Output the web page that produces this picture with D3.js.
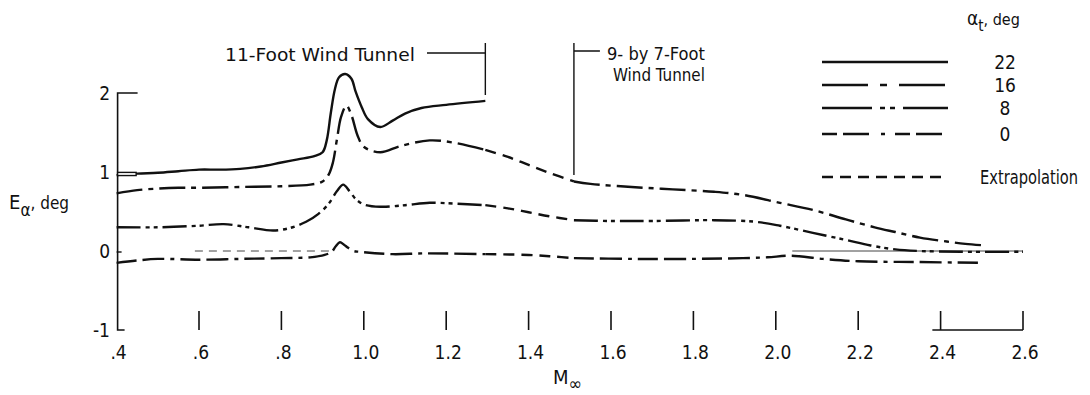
<!DOCTYPE html>
<html>
<head>
<meta charset="utf-8">
<script src="https://cdn.jsdelivr.net/npm/d3@7"></script>
<style>
  body { margin: 0; background: #fff; }
  svg { display: block; }
  text { font-family: "DejaVu Sans Condensed", "Liberation Sans Narrow", "DejaVu Sans", sans-serif; font-stretch: condensed; fill: #111; }
</style>
</head>
<body>
<div id="svg-container"></div>
<script>
// ------ DATA (Mach number, E_alpha in deg) ------ //
const xTicks = [0.4, 0.6, 0.8, 1.0, 1.2, 1.4, 1.6, 1.8, 2.0, 2.2, 2.4, 2.6];
const xTickLabels = [".4", ".6", ".8", "1.0", "1.2", "1.4", "1.6", "1.8", "2.0", "2.2", "2.4", "2.6"];
const yTicks = [2, 1, 0, -1];
const yTickLabels = ["2", "1", "0", "-1"];

// 11-Foot tunnel range ends, 9- by 7-Foot begins
const tunnelLimits = [1.295, 1.51];

// alpha_t = 22 (11-foot only)
const alpha22 = [[0.40,0.96],[0.45,0.98],[0.50,0.99],[0.55,1.01],[0.60,1.03],[0.65,1.03],[0.70,1.04],[0.75,1.07],[0.80,1.12],[0.84,1.16],[0.88,1.20],[0.90,1.25],[0.91,1.40],[0.92,1.75],[0.93,2.05],[0.94,2.20],[0.955,2.24],[0.97,2.18],[0.98,2.02],[0.995,1.82],[1.01,1.67],[1.04,1.57],[1.07,1.65],[1.10,1.74],[1.14,1.81],[1.20,1.85],[1.295,1.90]];

// alpha_t = 16
const alpha16 = [[0.40,0.73],[0.45,0.77],[0.50,0.79],[0.55,0.80],[0.60,0.80],[0.70,0.81],[0.80,0.82],[0.87,0.84],[0.90,0.88],[0.915,0.97],[0.925,1.12],[0.935,1.42],[0.945,1.70],[0.958,1.84],[0.97,1.72],[0.985,1.46],[1.00,1.32],[1.04,1.25],[1.09,1.33],[1.16,1.40],[1.22,1.37],[1.295,1.28]];
const alpha16Extrap = [[1.295,1.28],[1.35,1.19],[1.40,1.09],[1.45,0.99],[1.51,0.88]];
const alpha16High = [[1.51,0.88],[1.55,0.85],[1.65,0.81],[1.75,0.78],[1.85,0.75],[1.92,0.71],[2.01,0.61],[2.09,0.52],[2.17,0.40],[2.24,0.30],[2.29,0.24],[2.35,0.17],[2.415,0.12],[2.46,0.09],[2.51,0.07]];

// alpha_t = 8
const alpha8 = [[0.40,0.30],[0.50,0.30],[0.60,0.32],[0.66,0.34],[0.72,0.30],[0.78,0.26],[0.82,0.29],[0.86,0.37],[0.89,0.47],[0.915,0.60],[0.935,0.76],[0.95,0.84],[0.965,0.76],[0.98,0.66],[1.00,0.59],[1.04,0.56],[1.10,0.58],[1.16,0.61],[1.22,0.60],[1.295,0.58]];
const alpha8Extrap = [[1.295,0.58],[1.35,0.54],[1.40,0.49],[1.45,0.44],[1.51,0.39]];
const alpha8High = [[1.51,0.39],[1.60,0.38],[1.70,0.38],[1.85,0.39],[1.95,0.37],[2.01,0.32],[2.09,0.23],[2.17,0.14],[2.23,0.07],[2.29,0.02],[2.35,0.0],[2.45,-0.01],[2.60,-0.01]];

// alpha_t = 0
const alpha0 = [[0.40,-0.15],[0.45,-0.12],[0.50,-0.10],[0.60,-0.11],[0.70,-0.10],[0.80,-0.09],[0.87,-0.08],[0.905,-0.05],[0.922,-0.01],[0.932,0.06],[0.942,0.11],[0.952,0.08],[0.962,0.04],[0.975,0.0],[0.99,-0.01],[1.07,-0.04],[1.15,-0.03],[1.295,-0.04]];
const alpha0Extrap = [[1.295,-0.04],[1.40,-0.05],[1.46,-0.07],[1.51,-0.09]];
const alpha0High = [[1.51,-0.09],[1.65,-0.10],[1.80,-0.10],[1.92,-0.09],[1.98,-0.08],[2.035,-0.06],[2.115,-0.10],[2.20,-0.13],[2.35,-0.14],[2.50,-0.15]];

// thin zero reference pieces
const zeroRef = [[0.59, 0.93], [2.04, 2.60]];

const legendLabels = ["22", "16", "8", "0", "Extrapolation"];

// ------ LAYOUT ------ //
const width = 1090;
const height = 395;

const X_LEFT = 116.6;
const X_RIGHT = 1023;
const Y_TOP = 93;
const Y_BOTTOM = 330;

const INK = "#111";
const CURVE_WIDTH = 2.4;

const DASH_22 = "none";
const DASH_16 = "26,6,5,6";
const DASH_8 = "24,5,4,4,4,5";
const DASH_0 = "20,6,22,6,4,6";
const DASH_EXTRAP = "11,7";

const svg = d3
  .select("#svg-container")
  .append("svg")
  .attr("width", width)
  .attr("height", height);

const xScale = d3.scaleLinear().domain([0.4, 2.6]).range([X_LEFT, X_RIGHT]);
const yScale = d3.scaleLinear().domain([-1, 2]).range([Y_BOTTOM, Y_TOP]);

const line = d3
  .line()
  .x((d) => xScale(d[0]))
  .y((d) => yScale(d[1]))
  .curve(d3.curveCatmullRom.alpha(0.5));

// lettering in the original is narrow with wide word gaps:
// draw at the origin of a group and squeeze/stretch it to the wanted width
function fittedText(x, y, str, w, size) {
  const g = svg.append("g");
  const t = g.append("text").attr("x", 0).attr("y", 0).style("font-size", size + "px").text(str);
  const k = w / t.node().getComputedTextLength();
  g.attr("transform", `translate(${x},${y}) scale(${k},1)`);
  return t;
}

// =========== AXES =========== //
const axisG = svg.append("g").attr("stroke", INK).attr("fill", "none");

// left axis with bracket ends
axisG.append("path")
  .attr("stroke-width", 1.6)
  .attr("d", `M${xScale(0.4) + 21},${yScale(2)} H${xScale(0.4) + 1} V${yScale(-1)} H${xScale(0.4) + 8}`);
axisG.append("line")
  .attr("stroke-width", 1.4)
  .attr("x1", xScale(0.4)).attr("x2", xScale(0.4) + 5)
  .attr("y1", yScale(0) + 1).attr("y2", yScale(0) + 1);

// bottom ticks (no base line except the last interval)
axisG.selectAll("line.xtick")
  .data(xTicks.slice(1))
  .enter()
  .append("line")
  .attr("class", "xtick")
  .attr("stroke-width", 1.6)
  .attr("x1", (d) => xScale(d)).attr("x2", (d) => xScale(d))
  .attr("y1", Y_BOTTOM - 19).attr("y2", Y_BOTTOM);
axisG.append("line")
  .attr("stroke-width", 1.6)
  .attr("x1", xScale(2.38)).attr("x2", xScale(2.6))
  .attr("y1", Y_BOTTOM).attr("y2", Y_BOTTOM);

svg.append("g")
  .selectAll("text.xlab")
  .data(xTicks)
  .enter()
  .append("text")
  .attr("x", (d) => xScale(d) + 2)
  .attr("y", 359)
  .attr("text-anchor", "middle")
  .style("font-size", "19px")
  .text((d, i) => xTickLabels[i]);

svg.append("g")
  .selectAll("text.ylab")
  .data(yTicks)
  .enter()
  .append("text")
  .attr("x", 110)
  .attr("y", (d) => yScale(d) + 7)
  .attr("text-anchor", "end")
  .style("font-size", "19px")
  .text((d, i) => yTickLabels[i]);

// axis titles
const yTitle = svg.append("text").attr("x", 9).attr("y", 209).style("font-size", "20px");
yTitle.append("tspan").text("E");
yTitle.append("tspan").attr("dy", 7).style("font-size", "17px").text("\u03B1");
yTitle.append("tspan").attr("dy", -7).style("font-size", "17px").text(",  deg");

const xTitle = svg.append("text").attr("x", 553).attr("y", 384).style("font-size", "20px");
xTitle.append("tspan").text("M");
xTitle.append("tspan").attr("dy", 6).style("font-size", "18px").text("\u221E");

// =========== TUNNEL ANNOTATIONS =========== //
const annG = svg.append("g").attr("stroke", INK).attr("fill", "none").attr("stroke-width", 1.4);
annG.append("path")
  .attr("d", `M427,53 H${xScale(tunnelLimits[0])} M${xScale(tunnelLimits[0])},43 V95`);
annG.append("path")
  .attr("d", `M${xScale(tunnelLimits[1]) + 26},51 H${xScale(tunnelLimits[1])} M${xScale(tunnelLimits[1])},43 V175`);

fittedText(225, 61, "11-Foot Wind Tunnel", 190, 18);
fittedText(607, 60, "9- by 7-Foot", 98, 18);
fittedText(613, 81, "Wind Tunnel", 92, 18);

// =========== ZERO REFERENCE =========== //
svg.append("g")
  .selectAll("line.zero")
  .data(zeroRef)
  .enter()
  .append("line")
  .attr("x1", (d) => xScale(d[0])).attr("x2", (d) => xScale(d[1]))
  .attr("y1", yScale(0)).attr("y2", yScale(0))
  .attr("stroke", "#444")
  .attr("stroke-width", 1)
  .attr("stroke-dasharray", (d, i) => (i === 0 ? "8,6" : "none"));

// =========== CURVES =========== //
const curves = [
  { data: alpha22, dash: DASH_22 },
  { data: alpha16, dash: DASH_16 },
  { data: alpha16Extrap, dash: DASH_EXTRAP },
  { data: alpha16High, dash: DASH_16 },
  { data: alpha8, dash: DASH_8 },
  { data: alpha8Extrap, dash: DASH_EXTRAP },
  { data: alpha8High, dash: DASH_8 },
  { data: alpha0, dash: DASH_0 },
  { data: alpha0Extrap, dash: DASH_EXTRAP },
  { data: alpha0High, dash: DASH_0 },
];

svg.append("g")
  .selectAll("path.curve")
  .data(curves)
  .enter()
  .append("path")
  .attr("class", "curve")
  .attr("d", (d) => line(d.data))
  .attr("fill", "none")
  .attr("stroke", INK)
  .attr("stroke-width", CURVE_WIDTH)
  .attr("stroke-linecap", "butt")
  .attr("stroke-dasharray", (d) => d.dash);

// little doubled start of the 22 deg curve
svg.append("rect")
  .attr("x", xScale(0.4) + 1)
  .attr("y", yScale(0.995))
  .attr("width", xScale(0.445) - xScale(0.4))
  .attr("height", yScale(0.955) - yScale(0.995))
  .attr("fill", "#fff")
  .attr("stroke", INK)
  .attr("stroke-width", 1.4);

// =========== LEGEND =========== //
const legendDash = [DASH_22, "46,12,7,12", "50,8,5,5,5,8", "15,6,26,12,4,10", DASH_EXTRAP];
const legendY = [62, 85, 108, 134, 177];

const legendTitle = svg.append("text").attr("x", 967).attr("y", 25).style("font-size", "19px");
legendTitle.append("tspan").text("\u03B1");
legendTitle.append("tspan").attr("dy", 6).style("font-size", "15px").text("t");
legendTitle.append("tspan").attr("dy", -6).style("font-size", "16px").text(", deg");

const legendG = svg.append("g")
  .selectAll("g.legend")
  .data(legendLabels)
  .enter()
  .append("g");

legendG.append("line")
  .attr("x1", 822).attr("x2", 948)
  .attr("y1", (d, i) => legendY[i]).attr("y2", (d, i) => legendY[i])
  .attr("stroke", INK)
  .attr("stroke-width", CURVE_WIDTH)
  .attr("stroke-dasharray", (d, i) => legendDash[i]);

legendG.filter((d, i) => i < 4)
  .append("text")
  .attr("x", 1005)
  .attr("y", (d, i) => legendY[i] + 7)
  .attr("text-anchor", "middle")
  .style("font-size", "19px")
  .text((d) => d);

fittedText(980, legendY[4] + 7, legendLabels[4], 98, 19);
</script>
</body>
</html>
